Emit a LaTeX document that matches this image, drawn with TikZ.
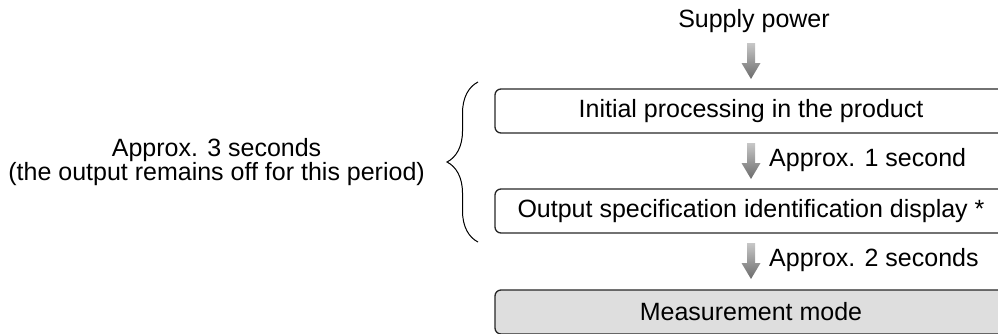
\documentclass[tikz,border=0pt]{standalone}
\usepackage{fontspec}
\setmainfont{Liberation Sans}
\usetikzlibrary{positioning,calc,decorations.pathreplacing}

\tikzset{
  stepbox/.style={draw=black!85, line width=1.3pt, rounded corners=6pt,
    minimum width=512pt, minimum height=44pt, inner sep=0pt, outer sep=0pt},
  modebox/.style={stepbox, fill=black!13},
  arrowshade/.style={top color=black!22, bottom color=black!58},
  timelabel/.style={anchor=base west, inner sep=0pt},
}

% shaded down arrow, from #1 to #2
\newcommand{\grayarrow}[2]{%
  \shade[arrowshade] let \p1=(#1), \p2=(#2) in
    (\x2-4pt,\y1) -- (\x2+4pt,\y1) -- (\x2+4pt,\y2+16pt) -- (\x2+9.5pt,\y2+16pt)
    -- (\x2,\y2) -- (\x2-9.5pt,\y2+16pt) -- (\x2-4pt,\y2+16pt) -- cycle;}

\begin{document}
\begin{tikzpicture}[x=1pt, y=-1pt, font=\fontsize{25}{24}\selectfont]
\useasboundingbox (0,0) rectangle (998,333);

% boxes
\node[stepbox] (init) at (751,111) {Initial processing in the product};
\node[stepbox] (spec) at (751,211) {Output specification identification display *};
\node[modebox] (mode) at (751,312) {Measurement mode};
\node[anchor=base, inner sep=0pt] (supply) at (754,27) {Supply power};

% arrows
\grayarrow{$(supply.base)+(0,16)$}{$(init.north)+(0,-10)$}
\grayarrow{$(init.south)+(0,10)$}{$(spec.north)+(0,-10)$}
\grayarrow{$(spec.south)+(0,10)$}{$(mode.north)+(0,-11)$}

% times
\node[timelabel] (onesec) at ($(init.south)+(18,33)$) {Approx. 1 second};
\node[timelabel] (twosec) at ($(spec.south)+(18,33)$) {Approx. 2 seconds};

% brace
\coordinate (bracetop) at ($(init.north west)+(-17,-7)$);
\coordinate (bracebot) at ($(spec.south west)+(-17,9)$);
\coordinate (bracetip) at ($(bracetop)!0.5!(bracebot)+(-31,0)$);
\draw[line width=1pt, decorate, decoration={brace, amplitude=31pt}] (bracebot) -- (bracetop);
\node[left=22pt of bracetip, align=center, inner sep=0pt] (period)
  {Approx. 3 seconds\\(the output remains off for this period)};
\end{tikzpicture}
\end{document}
